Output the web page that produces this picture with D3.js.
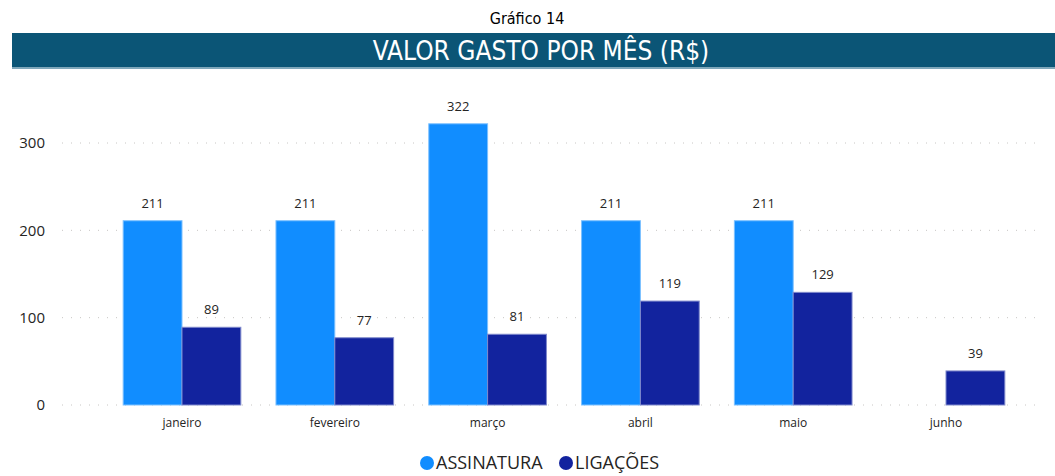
<!DOCTYPE html>
<html>
<head>
<meta charset="utf-8">
<script src="https://cdn.jsdelivr.net/npm/d3@7"></script>
<style>
  body { margin: 0; background: #fff; }
  svg { display: block; }
</style>
</head>
<body>
<svg id="chart" width="1055" height="476"></svg>
<script>
'use strict';

var months = ['janeiro', 'fevereiro', 'março', 'abril', 'maio', 'junho']
var assinatura = [211, 211, 322, 211, 211, null]
var ligacoes = [89, 77, 81, 119, 129, 39]
var seriesNames = ['ASSINATURA', 'LIGAÇÕES']
var seriesColors = ['#118DFF', '#12239E']
var yTicks = [0, 100, 200, 300]

var svg = d3.select('#chart')
var font = '"Segoe UI", "Open Sans", "DejaVu Sans", sans-serif'
var narrow = '"Liberation Sans Narrow", "DejaVu Sans Condensed", sans-serif'

// header
svg.append('text')
    .attr('x', 527).attr('y', 24)
    .attr('text-anchor', 'middle')
    .attr('font-family', narrow)
    .attr('font-size', 16)
    .attr('fill', '#000')
    .text('Gráfico 14')

svg.append('rect')
    .attr('x', 12).attr('y', 33)
    .attr('width', 1043).attr('height', 35)
    .attr('fill', '#0B5576')
svg.append('rect')
    .attr('x', 12).attr('y', 67)
    .attr('width', 1043).attr('height', 2)
    .attr('fill', '#7FA7BA')

svg.append('text')
    .attr('x', 541).attr('y', 60)
    .attr('text-anchor', 'middle')
    .attr('font-family', narrow)
    .attr('font-size', 26)
    .attr('fill', '#fff')
    .text('VALOR GASTO POR MÊS (R$)')

// scales
var y = d3.scaleLinear().domain([0, 300]).range([405, 143])
var x0 = d3.scaleBand().domain(months).range([105.6, 1022.4])
    .paddingInner(0.23).paddingOuter(0.115)
var x1 = d3.scaleBand().domain([0, 1]).range([0, x0.bandwidth()])

// grid
var grid = svg.append('g')
grid.selectAll('line')
    .data(yTicks)
    .enter().append('line')
    .attr('x1', 62).attr('x2', 1042)
    .attr('y1', function(d) { return y(d); })
    .attr('y2', function(d) { return y(d); })
    .attr('stroke', '#C8C6C4')
    .attr('stroke-width', 1)
    .attr('stroke-dasharray', '1,8')

var yAxis = svg.append('g')
    .attr('transform', 'translate(45,0)')
    .call(d3.axisLeft(y).tickValues(yTicks).tickSize(0).tickPadding(0))
yAxis.select('.domain').remove()
yAxis.selectAll('text')
    .attr('font-family', font)
    .attr('font-size', 15)
    .attr('fill', '#252423')

var xAxis = svg.append('g')
    .attr('transform', 'translate(0,416)')
    .call(d3.axisBottom(x0).tickSize(0).tickPadding(0))
xAxis.select('.domain').remove()
xAxis.selectAll('text')
    .attr('dy', '0.9em')
    .attr('font-family', font)
    .attr('font-size', 12)
    .attr('fill', '#252423')

// bars
var rows = months.map(function(m, i) {
    return { month: m, values: [assinatura[i], ligacoes[i]] }
})

var groups = svg.append('g').selectAll('g')
    .data(rows)
    .enter().append('g')
    .attr('transform', function(d) { return 'translate(' + x0(d.month) + ',0)'; })

var cells = groups.selectAll('g')
    .data(function(d) {
        return d.values.map(function(v, k) { return { k: k, v: v }; })
            .filter(function(c) { return c.v != null; })
    })
    .enter().append('g')

cells.append('rect')
    .attr('x', function(d) { return x1(d.k); })
    .attr('width', x1.bandwidth())
    .attr('y', function(d) { return y(d.v); })
    .attr('height', function(d) { return y(0) - y(d.v); })
    .attr('fill', function(d) { return seriesColors[d.k]; })
    .attr('stroke', function(d) { return d.k === 0 ? '#7CC0FF' : '#7F89CC'; })
    .attr('stroke-width', 1)

cells.append('text')
    .attr('x', function(d) { return x1(d.k) + x1.bandwidth() / 2; })
    .attr('y', function(d) { return y(d.v) - 13; })
    .attr('text-anchor', 'middle')
    .attr('font-family', font)
    .attr('font-size', 13)
    .attr('fill', '#252423')
    .text(function(d) { return d.v; })

// legend
var legend = svg.append('g').attr('transform', 'translate(0,463)')
var legendX = [427, 566]
seriesNames.forEach(function(name, k) {
    legend.append('circle')
        .attr('cx', legendX[k]).attr('cy', 0).attr('r', 7)
        .attr('fill', seriesColors[k])
    legend.append('text')
        .attr('x', legendX[k] + 9).attr('y', 0)
        .attr('dy', '0.35em')
        .attr('font-family', font)
        .attr('font-size', 18)
        .attr('fill', '#252423')
        .text(name)
})
</script>
</body>
</html>
